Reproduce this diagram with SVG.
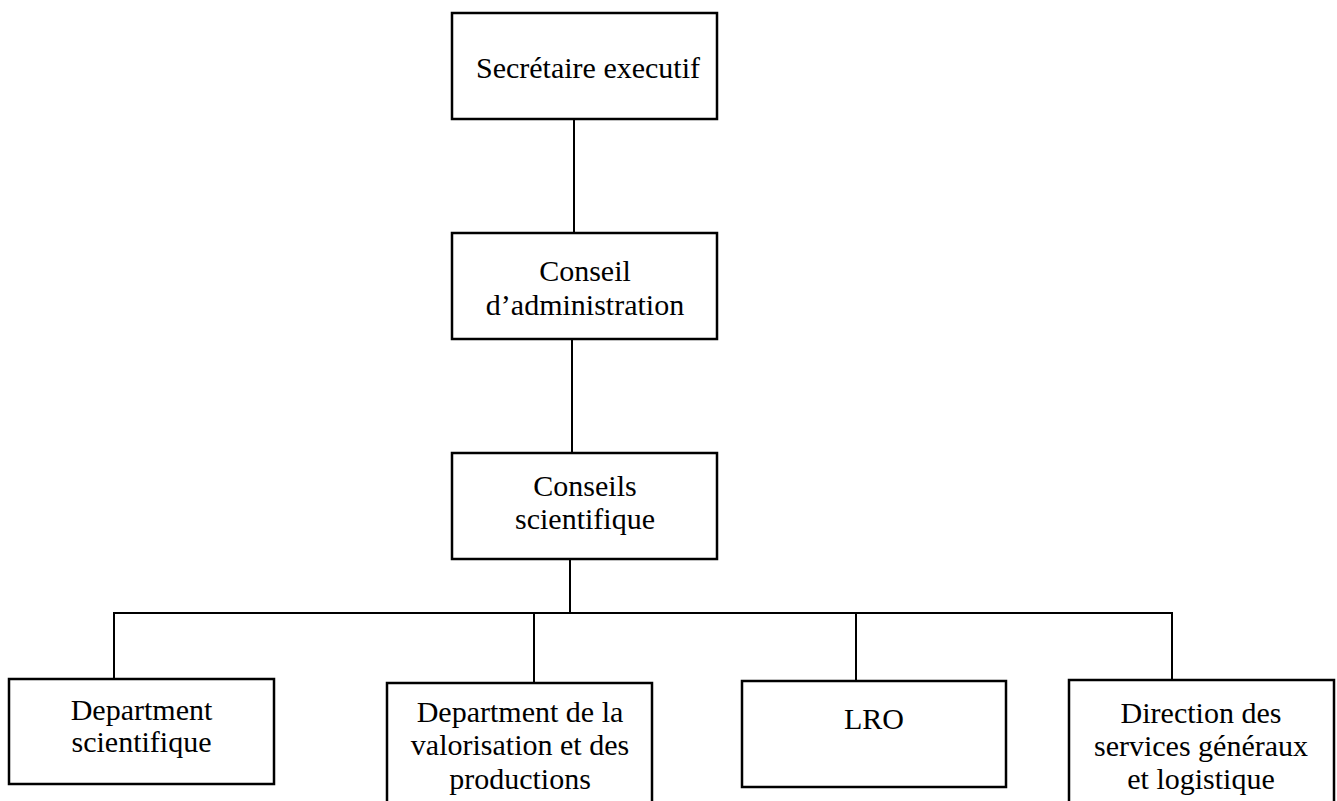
<svg xmlns="http://www.w3.org/2000/svg" width="1337" height="801" viewBox="0 0 1337 801">
<style>
.box{fill:#fff;stroke:#000;stroke-width:2.5}
.ln{fill:none;stroke:#000;stroke-width:2}
.t{font-family:"Liberation Serif","Times New Roman",serif;font-size:30px;fill:#000;text-anchor:middle}
</style>
<rect width="1337" height="801" fill="#fff"/>
<g id="connectors">
<line class="ln" x1="574" y1="119" x2="574" y2="233"/>
<line class="ln" x1="572" y1="339" x2="572" y2="453"/>
<line class="ln" x1="570" y1="559" x2="570" y2="613"/>
<line class="ln" x1="113" y1="613" x2="1173" y2="613"/>
<line class="ln" x1="114" y1="613" x2="114" y2="679"/>
<line class="ln" x1="534" y1="613" x2="534" y2="683"/>
<line class="ln" x1="856" y1="613" x2="856" y2="681"/>
<line class="ln" x1="1172" y1="613" x2="1172" y2="680"/>
</g>
<g id="secretaire">
<rect class="box" x="452" y="13" width="265" height="106"/>
<text class="t" x="588" y="78">Secrétaire executif</text>
</g>
<g id="conseil-admin">
<rect class="box" x="452" y="233" width="265" height="106"/>
<text class="t" x="585" y="281">Conseil</text>
<text class="t" x="585" y="315">d’administration</text>
</g>
<g id="conseils-sci">
<rect class="box" x="452" y="453" width="265" height="106"/>
<text class="t" x="585" y="496">Conseils</text>
<text class="t" x="585" y="529">scientifique</text>
</g>
<g id="dept-sci">
<rect class="box" x="9" y="679" width="265" height="105"/>
<text class="t" x="141.5" y="720">Department</text>
<text class="t" x="141.5" y="752">scientifique</text>
</g>
<g id="dept-valo">
<rect class="box" x="387" y="683" width="265" height="130"/>
<text class="t" x="520" y="722">Department de la</text>
<text class="t" x="520" y="755">valorisation et des</text>
<text class="t" x="520" y="789">productions</text>
</g>
<g id="lro">
<rect class="box" x="742" y="681" width="264" height="106"/>
<text class="t" x="874" y="729">LRO</text>
</g>
<g id="direction">
<rect class="box" x="1069" y="680" width="265" height="130"/>
<text class="t" x="1201" y="723">Direction des</text>
<text class="t" x="1201" y="756">services généraux</text>
<text class="t" x="1201" y="789">et logistique</text>
</g>
</svg>
